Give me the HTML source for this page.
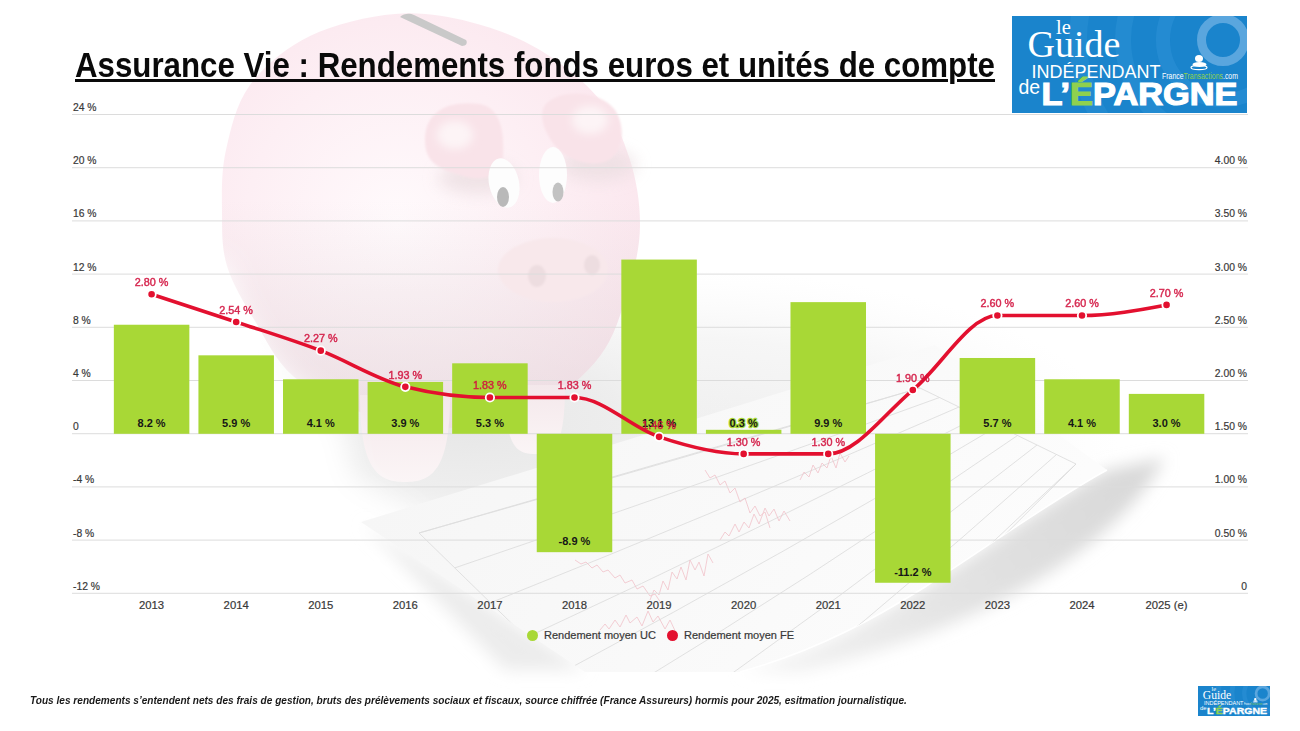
<!DOCTYPE html>
<html><head><meta charset="utf-8">
<style>
html,body{margin:0;padding:0;background:#fff;}
body{width:1300px;height:731px;position:relative;overflow:hidden;font-family:"Liberation Sans",sans-serif;}
svg.layer{position:absolute;left:0;top:0;}
.ax{font-size:11.3px;fill:#383838;stroke:#383838;stroke-width:0.2px;}
.bl{font-size:11px;font-weight:bold;fill:#161616;stroke:#a8d836;stroke-width:2.5px;paint-order:stroke;stroke-linejoin:round;}
.fl{font-size:10.8px;fill:#d2123e;stroke:#d2123e;stroke-width:0.45px;opacity:0.9;}
.lg{font-size:11px;fill:#383838;stroke:#383838;stroke-width:0.2px;}
#title{position:absolute;left:75px;top:46px;font-size:34.5px;font-weight:bold;color:#0a0a0a;white-space:nowrap;text-decoration:underline;text-decoration-thickness:3px;text-underline-offset:1.5px;transform:scaleX(0.906);transform-origin:0 0;}
#foot{position:absolute;left:30px;top:694px;font-size:11px;font-style:italic;font-weight:bold;color:#1a1a1a;white-space:nowrap;transform:scaleX(0.917);transform-origin:0 0;}
</style></head><body>
<svg class="layer" width="1300" height="731" viewBox="0 0 1300 731">
<defs>
<radialGradient id="pigb" cx="0.42" cy="0.5" r="0.6">
<stop offset="0" stop-color="#fffafc"/>
<stop offset="0.6" stop-color="#fdeff4"/>
<stop offset="1" stop-color="#fbe7ee"/>
</radialGradient>
<linearGradient id="fade" x1="0" y1="0" x2="0" y2="1">
<stop offset="0" stop-color="#fff" stop-opacity="0"/>
<stop offset="1" stop-color="#fff" stop-opacity="1"/>
</linearGradient>
<linearGradient id="paper" x1="0" y1="0" x2="1" y2="0.3">
<stop offset="0" stop-color="#f5f5f5"/>
<stop offset="0.6" stop-color="#f9f9f9"/>
<stop offset="1" stop-color="#fcfcfc"/>
</linearGradient>
<linearGradient id="lshadow" x1="0" y1="0" x2="1" y2="-0.6">
<stop offset="0" stop-color="#ffffff"/>
<stop offset="1" stop-color="#e4e4e4"/>
</linearGradient>
<radialGradient id="floor" cx="0.5" cy="0.5" r="0.5">
<stop offset="0" stop-color="#e6e6e6" stop-opacity="1"/>
<stop offset="0.55" stop-color="#ececec" stop-opacity="0.8"/>
<stop offset="1" stop-color="#f4f4f4" stop-opacity="0"/>
</radialGradient>
<radialGradient id="floor2" cx="0.5" cy="0.5" r="0.5">
<stop offset="0" stop-color="#eeeeee" stop-opacity="1"/>
<stop offset="0.6" stop-color="#f2f2f2" stop-opacity="0.7"/>
<stop offset="1" stop-color="#f8f8f8" stop-opacity="0"/>
</radialGradient>
<linearGradient id="curlg" gradientUnits="userSpaceOnUse" x1="1120" y1="470" x2="760" y2="672">
<stop offset="0" stop-color="#d9d9d9"/>
<stop offset="0.5" stop-color="#e3e3e3"/>
<stop offset="1" stop-color="#f4f4f4"/>
</linearGradient>
<linearGradient id="pigshade" x1="0" y1="0" x2="0" y2="1">
<stop offset="0.45" stop-color="#d8cfd2" stop-opacity="0"/>
<stop offset="1" stop-color="#d8cfd2" stop-opacity="0.45"/>
</linearGradient>
<linearGradient id="legg" x1="0" y1="0" x2="0" y2="1">
<stop offset="0" stop-color="#f4e8eb"/>
<stop offset="1" stop-color="#fbf5f6"/>
</linearGradient>
<filter id="blur4" x="-50%" y="-50%" width="200%" height="200%"><feGaussianBlur stdDeviation="4"/></filter>
<filter id="blur8" x="-50%" y="-50%" width="200%" height="200%"><feGaussianBlur stdDeviation="8"/></filter>
<filter id="blur12" x="-50%" y="-50%" width="200%" height="200%"><feGaussianBlur stdDeviation="14"/></filter>
<filter id="blur2" x="-50%" y="-50%" width="200%" height="200%"><feGaussianBlur stdDeviation="1.3"/></filter>
</defs>
<!-- ground shadow under pig -->
<ellipse cx="680" cy="440" rx="440" ry="170" fill="url(#floor2)"/>
<ellipse cx="470" cy="420" rx="270" ry="130" fill="url(#floor)"/>
<!-- pig body -->
<g>
<path d="M395,14C421.7,11.7,445.8,16.0,470,22C494.2,28.0,518.3,37.0,540,50C561.7,63.0,585.0,81.7,600,100C615.0,118.3,623.3,139.0,630,160C636.7,181.0,640.3,204.3,640,226C639.7,247.7,634.7,268.3,628,290C621.3,311.7,614.7,336.8,600,356C585.3,375.2,565.0,393.0,540,405C515.0,417.0,480.0,426.8,450,428C420.0,429.2,386.2,420.7,360,412C333.8,403.3,310.5,391.2,293,376C275.5,360.8,266.0,339.3,255,321C244.0,302.7,232.5,284.3,227,266C221.5,247.7,222.2,230.3,222,211C221.8,191.7,221.3,171.0,226,150C230.7,129.0,236.0,104.0,250,85C264.0,66.0,285.8,47.8,310,36C334.2,24.2,368.3,16.3,395,14Z" fill="url(#pigb)"/>
<path d="M395,14C421.7,11.7,445.8,16.0,470,22C494.2,28.0,518.3,37.0,540,50C561.7,63.0,585.0,81.7,600,100C615.0,118.3,623.3,139.0,630,160C636.7,181.0,640.3,204.3,640,226C639.7,247.7,634.7,268.3,628,290C621.3,311.7,614.7,336.8,600,356C585.3,375.2,565.0,393.0,540,405C515.0,417.0,480.0,426.8,450,428C420.0,429.2,386.2,420.7,360,412C333.8,403.3,310.5,391.2,293,376C275.5,360.8,266.0,339.3,255,321C244.0,302.7,232.5,284.3,227,266C221.5,247.7,222.2,230.3,222,211C221.8,191.7,221.3,171.0,226,150C230.7,129.0,236.0,104.0,250,85C264.0,66.0,285.8,47.8,310,36C334.2,24.2,368.3,16.3,395,14Z" fill="url(#pigshade)"/>
<!-- legs -->
<path d="M360,395 C360,470 378,482 405,482 C432,482 450,470 450,395 Z" fill="url(#legg)"/>
<path d="M505,385 C505,445 515,454 535,454 C555,454 565,445 565,385 Z" fill="url(#legg)"/>
<!-- slot -->
<path d="M400,17 C404,13 410,13 414,15 L466,40 C468,43 466,46 462,46 Z" fill="#c9c9c9"/>
<!-- ear shading -->
<ellipse cx="478" cy="178" rx="40" ry="16" fill="#ecdfe2" filter="url(#blur8)" opacity="0.8"/>
<ellipse cx="598" cy="165" rx="38" ry="16" fill="#ecdfe2" filter="url(#blur8)" opacity="0.8"/>
<!-- ears -->
<path d="M425,140 C425,110 450,100 480,104 C500,108 505,130 503,160 C500,178 480,182 460,175 C435,168 425,160 425,140 Z" fill="#f9e3e9" filter="url(#blur2)"/>
<path d="M545,105 C560,88 600,90 615,110 C628,130 622,160 600,163 C575,166 555,150 548,135 C542,125 540,112 545,105 Z" fill="#f9e3e9" filter="url(#blur2)"/>
<ellipse cx="455" cy="135" rx="18" ry="14" fill="#fdf4f6" filter="url(#blur4)"/>
<ellipse cx="590" cy="120" rx="18" ry="14" fill="#fdf4f6" filter="url(#blur4)"/>
<!-- eyes -->
<ellipse cx="504" cy="183" rx="15" ry="25" fill="#fdfdfd" transform="rotate(-12 504 183)"/>
<ellipse cx="503" cy="197" rx="6" ry="10" fill="#b9b9b9"/>
<ellipse cx="553" cy="175" rx="14" ry="28" fill="#fdfdfd"/>
<ellipse cx="558" cy="192" rx="5.5" ry="9.5" fill="#c2c2c2"/>
<!-- snout -->
<ellipse cx="553" cy="270" rx="55" ry="32" fill="#f8e8eb" filter="url(#blur2)"/>
<ellipse cx="537" cy="276" rx="9" ry="11" fill="#eddde0" filter="url(#blur2)"/>
<ellipse cx="592" cy="265" rx="8" ry="10" fill="#eddde0" filter="url(#blur2)"/>
</g>
<!-- white fade bottom-left -->
<path d="M150,260 L225,260 C240,320 270,370 320,400 C340,412 350,440 352,480 L420,520 L470,600 L470,731 L150,731 Z" fill="#ffffff" filter="url(#blur12)"/>
<!-- paper left shadow -->
<path d="M361,522 L585,670 L505,670 Z" fill="#ececec" filter="url(#blur8)"/>
<!-- curl shadow -->
<path d="M1107,470 C1060,495 990,545 925,587 C880,615 820,650 740,672 L800,672 C1000,625 1120,540 1165,458 Z" fill="url(#curlg)" filter="url(#blur8)"/>
<!-- paper -->
<path d="M361,522 L935,345 L1107,470 C1060,495 990,545 925,587 C880,615 820,650 740,672 L585,672 Z" fill="url(#paper)"/>
<path d="M1107,470 C1060,495 990,545 925,587 C880,615 820,650 740,672" fill="none" stroke="#ffffff" stroke-width="1.5"/>
<clipPath id="paperclip"><path d="M361,522 L935,345 L1107,470 C1060,495 990,545 925,587 C880,615 820,650 740,672 L585,672 Z"/></clipPath>
<g stroke="#dedede" stroke-width="0.9" fill="none" clip-path="url(#paperclip)">
<path d="M419,533 L920,388 L1076,464 L705,812 Z"/>
<path d="M419.0,533.0 Q675.5,460.5 920.0,388.0"/>
<path d="M454.8,567.9 Q703.1,483.7 939.5,397.5"/>
<path d="M490.5,602.8 Q730.8,506.9 959.0,407.0"/>
<path d="M526.2,637.6 Q758.4,530.1 978.5,416.5"/>
<path d="M562.0,672.5 Q786.0,553.2 998.0,426.0"/>
<path d="M597.8,707.4 Q813.6,576.4 1017.5,435.5"/>
<path d="M633.5,742.2 Q841.2,599.6 1037.0,445.0"/>
<path d="M669.2,777.1 Q868.9,622.8 1056.5,454.5"/>
<path d="M705.0,812.0 Q896.5,646.0 1076.0,464.0"/>
</g>
<g stroke="#f0bfc7" stroke-width="0.9" fill="none" opacity="0.85" clip-path="url(#paperclip)">
<path d="M575,560 l6,4 l5,-2 l6,6 l5,-3 l6,7 l5,-2 l7,8 l5,-3 l5,8 l7,-3 l5,9 l6,-3 l7,10 l5,-2 l6,9"/>
<path d="M600,630 l5,-6 l4,5 l6,-9 l5,7 l6,-12 l4,8 l7,-6 l5,9 l6,-15 l5,11 l5,-6 l7,13 l5,-9 l7,15"/>
<path d="M720,540 l5,-8 l4,4 l6,-12 l4,8 l5,-10 l5,6 l5,-14 l5,10 l6,-16 l4,8 l5,-7 l5,12 l5,-10 l6,10"/>
<path d="M650,600 l4,-10 l5,5 l4,-14 l5,9 l4,-18 l5,7 l4,-12 l5,13 l4,-20 l5,10 l4,-8 l5,14 l4,-22 l5,9"/>
<path d="M705,470 l5,8 l5,-3 l5,10 l5,-4 l5,12 l5,-5 l5,14 l5,-4 l5,15 l5,-7 l5,10 l5,-4 l5,16"/>
<path d="M800,480 l4,-8 l5,5 l4,-12 l5,8 l4,-10 l5,5 l4,-12 l5,12 l4,-15 l5,9 l4,-6"/>
</g>
<rect x="72" y="114.00" width="1176" height="1" fill="#dcdcdc"/>
<text x="73" y="110.90" class="ax" textLength="23.57" lengthAdjust="spacingAndGlyphs">24 %</text>
<rect x="72" y="167.20" width="1176" height="1" fill="#dcdcdc"/>
<text x="73" y="164.10" class="ax" textLength="23.57" lengthAdjust="spacingAndGlyphs">20 %</text>
<text x="1247" y="164.10" class="ax" text-anchor="end" textLength="32.19" lengthAdjust="spacingAndGlyphs">4.00 %</text>
<rect x="72" y="220.40" width="1176" height="1" fill="#dcdcdc"/>
<text x="73" y="217.30" class="ax" textLength="23.57" lengthAdjust="spacingAndGlyphs">16 %</text>
<text x="1247" y="217.30" class="ax" text-anchor="end" textLength="32.19" lengthAdjust="spacingAndGlyphs">3.50 %</text>
<rect x="72" y="273.60" width="1176" height="1" fill="#dcdcdc"/>
<text x="73" y="270.50" class="ax" textLength="23.57" lengthAdjust="spacingAndGlyphs">12 %</text>
<text x="1247" y="270.50" class="ax" text-anchor="end" textLength="32.19" lengthAdjust="spacingAndGlyphs">3.00 %</text>
<rect x="72" y="326.80" width="1176" height="1" fill="#dcdcdc"/>
<text x="73" y="323.70" class="ax" textLength="17.82" lengthAdjust="spacingAndGlyphs">8 %</text>
<text x="1247" y="323.70" class="ax" text-anchor="end" textLength="32.19" lengthAdjust="spacingAndGlyphs">2.50 %</text>
<rect x="72" y="380.00" width="1176" height="1" fill="#dcdcdc"/>
<text x="73" y="376.90" class="ax" textLength="17.82" lengthAdjust="spacingAndGlyphs">4 %</text>
<text x="1247" y="376.90" class="ax" text-anchor="end" textLength="32.19" lengthAdjust="spacingAndGlyphs">2.00 %</text>
<rect x="72" y="433.20" width="1176" height="1" fill="#dcdcdc"/>
<text x="73" y="430.10" class="ax" textLength="5.75" lengthAdjust="spacingAndGlyphs">0</text>
<text x="1247" y="430.10" class="ax" text-anchor="end" textLength="32.19" lengthAdjust="spacingAndGlyphs">1.50 %</text>
<rect x="72" y="486.40" width="1176" height="1" fill="#dcdcdc"/>
<text x="73" y="483.30" class="ax" textLength="21.26" lengthAdjust="spacingAndGlyphs">-4 %</text>
<text x="1247" y="483.30" class="ax" text-anchor="end" textLength="32.19" lengthAdjust="spacingAndGlyphs">1.00 %</text>
<rect x="72" y="539.60" width="1176" height="1" fill="#dcdcdc"/>
<text x="73" y="536.50" class="ax" textLength="21.26" lengthAdjust="spacingAndGlyphs">-8 %</text>
<text x="1247" y="536.50" class="ax" text-anchor="end" textLength="32.19" lengthAdjust="spacingAndGlyphs">0.50 %</text>
<rect x="72" y="592.80" width="1176" height="1" fill="#dcdcdc"/>
<text x="73" y="589.70" class="ax" textLength="27.01" lengthAdjust="spacingAndGlyphs">-12 %</text>
<text x="1247" y="589.70" class="ax" text-anchor="end" textLength="5.75" lengthAdjust="spacingAndGlyphs">0</text>
<rect x="113.85" y="324.74" width="75.5" height="109.06" fill="#a8d836"/>
<text x="151.60" y="426.80" class="bl" text-anchor="middle">8.2 %</text>
<text x="151.60" y="608.8" class="ax" text-anchor="middle">2013</text>
<rect x="198.43" y="355.33" width="75.5" height="78.47" fill="#a8d836"/>
<text x="236.18" y="426.80" class="bl" text-anchor="middle">5.9 %</text>
<text x="236.18" y="608.8" class="ax" text-anchor="middle">2014</text>
<rect x="283.01" y="379.27" width="75.5" height="54.53" fill="#a8d836"/>
<text x="320.76" y="426.80" class="bl" text-anchor="middle">4.1 %</text>
<text x="320.76" y="608.8" class="ax" text-anchor="middle">2015</text>
<rect x="367.59" y="381.93" width="75.5" height="51.87" fill="#a8d836"/>
<text x="405.34" y="426.80" class="bl" text-anchor="middle">3.9 %</text>
<text x="405.34" y="608.8" class="ax" text-anchor="middle">2016</text>
<rect x="452.17" y="363.31" width="75.5" height="70.49" fill="#a8d836"/>
<text x="489.92" y="426.80" class="bl" text-anchor="middle">5.3 %</text>
<text x="489.92" y="608.8" class="ax" text-anchor="middle">2017</text>
<rect x="536.75" y="433.80" width="75.5" height="118.37" fill="#a8d836"/>
<text x="574.50" y="545.17" class="bl" text-anchor="middle">-8.9 %</text>
<text x="574.50" y="608.8" class="ax" text-anchor="middle">2018</text>
<rect x="621.33" y="259.57" width="75.5" height="174.23" fill="#a8d836"/>
<text x="659.08" y="426.80" class="bl" text-anchor="middle">13.1 %</text>
<text x="659.08" y="608.8" class="ax" text-anchor="middle">2019</text>
<rect x="705.91" y="429.81" width="75.5" height="3.99" fill="#a8d836"/>
<text x="743.66" y="426.80" class="bl" text-anchor="middle">0.3 %</text>
<text x="743.66" y="608.8" class="ax" text-anchor="middle">2020</text>
<rect x="790.49" y="302.13" width="75.5" height="131.67" fill="#a8d836"/>
<text x="828.24" y="426.80" class="bl" text-anchor="middle">9.9 %</text>
<text x="828.24" y="608.8" class="ax" text-anchor="middle">2021</text>
<rect x="875.07" y="433.80" width="75.5" height="148.96" fill="#a8d836"/>
<text x="912.82" y="575.76" class="bl" text-anchor="middle">-11.2 %</text>
<text x="912.82" y="608.8" class="ax" text-anchor="middle">2022</text>
<rect x="959.65" y="357.99" width="75.5" height="75.81" fill="#a8d836"/>
<text x="997.40" y="426.80" class="bl" text-anchor="middle">5.7 %</text>
<text x="997.40" y="608.8" class="ax" text-anchor="middle">2023</text>
<rect x="1044.23" y="379.27" width="75.5" height="54.53" fill="#a8d836"/>
<text x="1081.98" y="426.80" class="bl" text-anchor="middle">4.1 %</text>
<text x="1081.98" y="608.8" class="ax" text-anchor="middle">2024</text>
<rect x="1128.81" y="393.90" width="75.5" height="39.90" fill="#a8d836"/>
<text x="1166.56" y="426.80" class="bl" text-anchor="middle">3.0 %</text>
<text x="1166.56" y="608.8" class="ax" text-anchor="middle">2025 (e)</text>
<path d="M151.60,294.28C179.79,303.41,207.99,312.55,236.18,321.94C264.37,331.34,292.57,339.85,320.76,350.67C348.95,361.49,377.15,379.75,405.34,386.85C433.53,393.94,461.73,397.49,489.92,397.49C518.11,397.49,546.31,397.49,574.50,397.49C602.69,397.49,630.89,427.46,659.08,436.86C687.27,446.25,715.47,453.88,743.66,453.88C771.85,453.88,800.05,453.88,828.24,453.88C856.43,453.88,884.63,413.09,912.82,390.04C941.01,366.99,969.21,315.56,997.40,315.56C1025.59,315.56,1053.79,315.56,1081.98,315.56C1110.17,315.56,1138.37,310.24,1166.56,304.92" fill="none" stroke="#e3102f" stroke-width="3.6"/>
<circle cx="151.60" cy="294.28" r="4.2" fill="#e3102f" stroke="#fff" stroke-width="1.8"/>
<text x="151.60" y="286.08" class="fl" text-anchor="middle">2.80 %</text>
<circle cx="236.18" cy="321.94" r="4.2" fill="#e3102f" stroke="#fff" stroke-width="1.8"/>
<text x="236.18" y="313.74" class="fl" text-anchor="middle">2.54 %</text>
<circle cx="320.76" cy="350.67" r="4.2" fill="#e3102f" stroke="#fff" stroke-width="1.8"/>
<text x="320.76" y="342.47" class="fl" text-anchor="middle">2.27 %</text>
<circle cx="405.34" cy="386.85" r="4.2" fill="#e3102f" stroke="#fff" stroke-width="1.8"/>
<text x="405.34" y="378.65" class="fl" text-anchor="middle">1.93 %</text>
<circle cx="489.92" cy="397.49" r="4.2" fill="#e3102f" stroke="#fff" stroke-width="1.8"/>
<text x="489.92" y="389.29" class="fl" text-anchor="middle">1.83 %</text>
<circle cx="574.50" cy="397.49" r="4.2" fill="#e3102f" stroke="#fff" stroke-width="1.8"/>
<text x="574.50" y="389.29" class="fl" text-anchor="middle">1.83 %</text>
<circle cx="659.08" cy="436.86" r="4.2" fill="#e3102f" stroke="#fff" stroke-width="1.8"/>
<text x="659.08" y="428.66" class="fl" text-anchor="middle">1.46 %</text>
<circle cx="743.66" cy="453.88" r="4.2" fill="#e3102f" stroke="#fff" stroke-width="1.8"/>
<text x="743.66" y="445.68" class="fl" text-anchor="middle">1.30 %</text>
<circle cx="828.24" cy="453.88" r="4.2" fill="#e3102f" stroke="#fff" stroke-width="1.8"/>
<text x="828.24" y="445.68" class="fl" text-anchor="middle">1.30 %</text>
<circle cx="912.82" cy="390.04" r="4.2" fill="#e3102f" stroke="#fff" stroke-width="1.8"/>
<text x="912.82" y="381.84" class="fl" text-anchor="middle">1.90 %</text>
<circle cx="997.40" cy="315.56" r="4.2" fill="#e3102f" stroke="#fff" stroke-width="1.8"/>
<text x="997.40" y="307.36" class="fl" text-anchor="middle">2.60 %</text>
<circle cx="1081.98" cy="315.56" r="4.2" fill="#e3102f" stroke="#fff" stroke-width="1.8"/>
<text x="1081.98" y="307.36" class="fl" text-anchor="middle">2.60 %</text>
<circle cx="1166.56" cy="304.92" r="4.2" fill="#e3102f" stroke="#fff" stroke-width="1.8"/>
<text x="1166.56" y="296.72" class="fl" text-anchor="middle">2.70 %</text>
<!-- legend -->
<circle cx="532.5" cy="635.5" r="5.5" fill="#a8d836"/>
<text x="544" y="639.2" class="lg">Rendement moyen UC</text>
<circle cx="672.5" cy="635.5" r="5.5" fill="#e3102f"/>
<text x="684" y="639.2" class="lg">Rendement moyen FE</text>
<!-- logo -->
<g transform="translate(1012,16)"><g>
<clipPath id="lgclip"><rect x="0" y="0" width="235" height="97"/></clipPath>
<rect x="0" y="0" width="235" height="97" fill="#1a84cc"/>
<g clip-path="url(#lgclip)" fill="none">
<circle cx="211" cy="24" r="60" stroke="#2a8fd4" stroke-width="14" opacity="0.7"/>
<circle cx="211" cy="24" r="100" stroke="#2a8fd4" stroke-width="16" opacity="0.6"/>
<circle cx="211" cy="24" r="145" stroke="#2a8fd4" stroke-width="18" opacity="0.5"/>
<circle cx="211" cy="24" r="21.5" stroke="#5aa6de" stroke-width="9"/>
</g>
<text x="44" y="17.5" font-family="Liberation Serif" font-size="20.5" fill="#fff">le</text>
<text x="15.5" y="40.8" font-family="Liberation Serif" font-size="38" fill="#fff">Guide</text>
<text x="19.5" y="62.3" font-family="Liberation Sans" font-size="19" fill="#fff" textLength="129" lengthAdjust="spacingAndGlyphs">INDÉPENDANT</text>
<text x="150" y="63" font-family="Liberation Sans" font-size="8.5" fill="#fff" textLength="76" lengthAdjust="spacingAndGlyphs">France<tspan fill="#8fd14f">Transactions</tspan>.com</text>
<text x="6.5" y="77.5" font-family="Liberation Sans" font-size="19.5" fill="#fff">de</text>
<text x="29.5" y="89.2" font-family="Liberation Sans" font-weight="bold" font-size="30.5" fill="#fff" stroke="#fff" stroke-width="1.2" textLength="196" lengthAdjust="spacingAndGlyphs">L’<tspan fill="#8fd14f" stroke="#8fd14f">É</tspan>PARGNE</text>
<g fill="#fff">
<ellipse cx="187" cy="42.5" rx="4" ry="3.5"/>
<ellipse cx="187.5" cy="48.5" rx="7" ry="2.6"/>
<ellipse cx="187" cy="51.5" rx="8" ry="2.2" fill="none" stroke="#fff" stroke-width="1.2"/>
</g>
</g>
</g><g transform="translate(1198,686) scale(0.3064,0.3093)"><g>
<clipPath id="lgclip2"><rect x="0" y="0" width="235" height="97"/></clipPath>
<rect x="0" y="0" width="235" height="97" fill="#1a84cc"/>
<g clip-path="url(#lgclip2)" fill="none">
<circle cx="211" cy="24" r="60" stroke="#2a8fd4" stroke-width="14" opacity="0.7"/>
<circle cx="211" cy="24" r="100" stroke="#2a8fd4" stroke-width="16" opacity="0.6"/>
<circle cx="211" cy="24" r="145" stroke="#2a8fd4" stroke-width="18" opacity="0.5"/>
<circle cx="211" cy="24" r="21.5" stroke="#5aa6de" stroke-width="9"/>
</g>
<text x="44" y="17.5" font-family="Liberation Serif" font-size="20.5" fill="#fff">le</text>
<text x="15.5" y="40.8" font-family="Liberation Serif" font-size="38" fill="#fff">Guide</text>
<text x="19.5" y="62.3" font-family="Liberation Sans" font-size="19" fill="#fff" textLength="129" lengthAdjust="spacingAndGlyphs">INDÉPENDANT</text>
<text x="150" y="63" font-family="Liberation Sans" font-size="8.5" fill="#fff" textLength="76" lengthAdjust="spacingAndGlyphs">France<tspan fill="#8fd14f">Transactions</tspan>.com</text>
<text x="6.5" y="77.5" font-family="Liberation Sans" font-size="19.5" fill="#fff">de</text>
<text x="29.5" y="89.2" font-family="Liberation Sans" font-weight="bold" font-size="30.5" fill="#fff" stroke="#fff" stroke-width="1.2" textLength="196" lengthAdjust="spacingAndGlyphs">L’<tspan fill="#8fd14f" stroke="#8fd14f">É</tspan>PARGNE</text>
<g fill="#fff">
<ellipse cx="187" cy="42.5" rx="4" ry="3.5"/>
<ellipse cx="187.5" cy="48.5" rx="7" ry="2.6"/>
<ellipse cx="187" cy="51.5" rx="8" ry="2.2" fill="none" stroke="#fff" stroke-width="1.2"/>
</g>
</g>
</g>
</svg>
<div id="title">Assurance Vie : Rendements fonds euros et unités de compte</div>
<div id="foot">Tous les rendements s’entendent nets des frais de gestion, bruts des prélèvements sociaux et fiscaux, source chiffrée (France Assureurs) hormis pour 2025, esitmation journalistique.</div>
</body></html>
